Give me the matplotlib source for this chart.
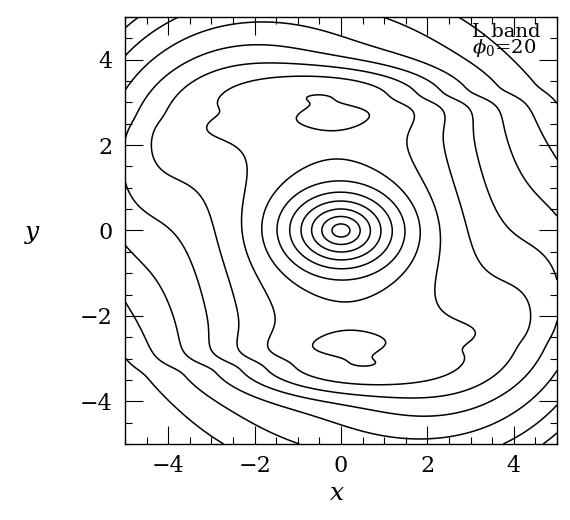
import numpy as np
import matplotlib
matplotlib.use("Agg")
import matplotlib.pyplot as plt
from matplotlib.ticker import MultipleLocator

# Contour levels (log surface brightness), outermost first
level_start = -5.38
level_step = 0.46
n_levels = 13

# Model components (ln amplitude, sizes in x/y units, angles in radians)
nucleus = dict(amp=0.483, scale=0.495, power=1.060, axis_ratio=0.736, tilt=-0.017)
bar = dict(amp=-3.153, width=2.484, length=2.829, power=17.43, tilt=0.075)
bar_ends = dict(amp=-2.978, x=-0.280, y=3.096, sx=1.372, sy=0.424)
disk = dict(amp=-3.943, scale=5.573, power=3.403, m2=0.534, phase=2.286, wind=0.277,
            inner=3.245, m4=-0.132, phase4=0.195)
arms = dict(amp=-4.298, radius=4.131, width=1.187, kappa=1.904, phase=1.891, wind=1.360)

x_ticks = [-4, -2, 0, 2, 4]
y_ticks = [-4, -2, 0, 2, 4]


def surface(x, y):
    n, b, g, d, a = nucleus, bar, bar_ends, disk, arms
    c, s = np.cos(n["tilt"]), np.sin(n["tilt"])
    xr, yr = c * x + s * y, -s * x + c * y
    rn = np.sqrt(xr ** 2 + (yr / n["axis_ratio"]) ** 2)
    rho = np.exp(n["amp"] - (rn / n["scale"]) ** n["power"])

    c, s = np.cos(b["tilt"]), np.sin(b["tilt"])
    xb, yb = c * x + s * y, -s * x + c * y
    rho += np.exp(b["amp"] - (xb / b["width"]) ** 2 - np.abs(yb / b["length"]) ** b["power"])

    for sg in (1, -1):
        rho += np.exp(g["amp"] - 0.5 * ((x - sg * g["x"]) / g["sx"]) ** 2
                      - 0.5 * ((y - sg * g["y"]) / g["sy"]) ** 2)

    r = np.hypot(x, y)
    th = np.arctan2(y, x)
    lr = np.log(np.maximum(r, 0.3) / 3)
    ramp = 1 - np.exp(-(r / d["inner"]) ** 4)
    mod = ramp * (d["m2"] * np.cos(2 * (th - d["phase"] - d["wind"] * lr))
                  + d["m4"] * np.cos(4 * (th - d["phase4"])))
    rho += np.exp(d["amp"] - (r / d["scale"]) ** d["power"] + mod)

    rho += np.exp(a["amp"] - ((r - a["radius"]) / a["width"]) ** 2
                  + a["kappa"] * (np.cos(2 * (th - a["phase"] - a["wind"] * lr)) - 1))
    return np.log(rho)


xg = np.linspace(-5, 5, 401)
X, Y = np.meshgrid(xg, xg)
Z = surface(X, Y)
levels = level_start + level_step * np.arange(n_levels)

plt.rcParams["font.family"] = "DejaVu Serif"
plt.rcParams["mathtext.fontset"] = "dejavuserif"

fig = plt.figure(figsize=(5.7, 5.2), dpi=100)
ax = fig.add_axes([0.2193, 0.1462, 0.7579, 0.8212])
ax.contour(X, Y, Z, levels=levels, colors="k", linewidths=1.1, linestyles="solid")

ax.set_xlim(-5, 5)
ax.set_ylim(-5, 5)
ax.set_xticks(x_ticks)
ax.set_yticks(y_ticks)
ax.xaxis.set_minor_locator(MultipleLocator(0.5))
ax.yaxis.set_minor_locator(MultipleLocator(0.5))
ax.tick_params(which="both", direction="in", top=True, right=True, width=0.8, labelsize=16)
ax.tick_params(which="major", length=13)
ax.tick_params(which="minor", length=5)
ax.tick_params(axis="x", pad=8)
ax.tick_params(axis="y", pad=9)
for sp in ax.spines.values():
    sp.set_linewidth(1.0)

fig.text(337 / 570, 1 - 493 / 520, "x", ha="center", va="center", fontsize=18, style="italic")
fig.text(32 / 570, 1 - 232 / 520, "y", ha="center", va="center", fontsize=18, style="italic")
ax.text(0.803, 0.916, "L band\n" + r"$\phi_0$=20", transform=ax.transAxes, fontsize=14,
        ha="left", va="baseline", linespacing=0.75)

fig.savefig("out.png", dpi=100)
